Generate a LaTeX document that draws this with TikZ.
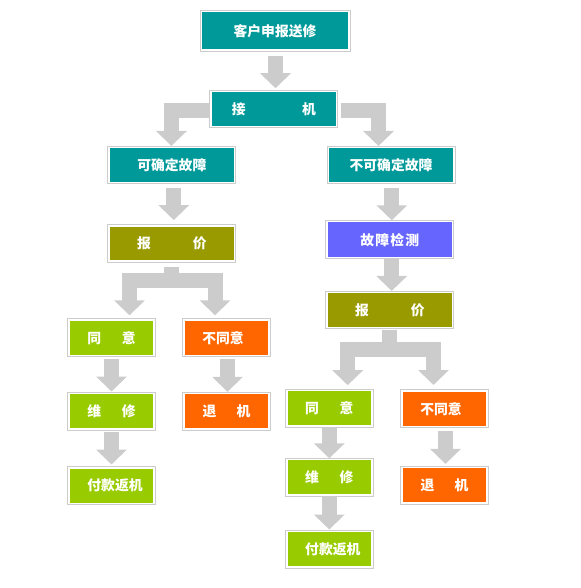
\documentclass[tikz,border=0pt]{standalone}
\usepackage{fontspec}
\newfontfamily\cjk{Noto Sans CJK SC}
\usetikzlibrary{arrows.meta,calc}
\definecolor{teal}{HTML}{009999}
\definecolor{olive}{HTML}{999900}
\definecolor{lgreen}{HTML}{99CC00}
\definecolor{orng}{HTML}{FF6600}
\definecolor{blu}{HTML}{6666FF}
\definecolor{frame}{HTML}{CCCCCC}
\definecolor{agray}{HTML}{CCCCCC}
\tikzset{
  box/.style={rectangle, inner sep=0pt, fill=#1, draw=white, line width=1.5pt,
    text=white, font=\cjk\bfseries\fontsize{13.8}{15}\selectfont,
    preaction={draw=frame, line width=3.5pt}},
  wide/.style={minimum width=125.5pt, minimum height=35pt},
  small/.style={minimum width=85pt, minimum height=35.5pt},
  blk/.style={draw=agray, line width=15pt, line join=miter,
    -{Triangle[width=30pt,length=15pt]}},
}
\begin{document}
\begin{tikzpicture}[x=1pt,y=-1pt]
\useasboundingbox (0,0) rectangle (580,588);
% nodes
\node[box=teal, minimum width=147.5pt, minimum height=38.5pt] (top) at (275,31) {客户申报送修};
\node[box=teal, wide] (jj) at (273.8,109.2) {接\hspace{56.4pt}机};
\node[box=teal, wide] (ke) at (171.8,165.2) {可确定故障};
\node[box=teal, wide] (bk) at (391,165.2) {不可确定故障};
\node[box=olive, wide] (bjL) at (171.8,243.3) {报\hspace{42pt}价};
\node[box=blu, wide, minimum height=36pt] (jc) at (389.8,239.7) {故\hspace{1.2pt}障\hspace{1.2pt}检\hspace{1.2pt}测};
\node[box=olive, wide] (bjR) at (389.8,310.2) {报\hspace{42pt}价};
% left lower
\node[box=lgreen, small] (tyL) at (111.5,337.8) {同\hspace{20.8pt}意};
\node[box=orng, small] (btyL) at (226.5,337.8) {\hspace{-7pt}不同意};
\node[box=lgreen, small] (wxL) at (111.5,411) {维\hspace{20.8pt}修};
\node[box=orng, small] (tjL) at (226.5,411.3) {退\hspace{20.4pt}机};
\node[box=lgreen, small] (fkL) at (111.5,485.7) {\hspace{7pt}付款返机};
% right lower
\node[box=lgreen, small] (tyR) at (329.3,408) {同\hspace{20.8pt}意};
\node[box=orng, small] (btyR) at (444.5,408.8) {\hspace{-7pt}不同意};
\node[box=lgreen, small] (wxR) at (329.3,477) {维\hspace{20.8pt}修};
\node[box=orng, small] (tjR) at (444.5,485) {退\hspace{20.4pt}机};
\node[box=lgreen, small] (fkR) at (329.3,549) {\hspace{7pt}付款返机};
% straight arrows
\draw[blk, shorten <=4.7pt, shorten >=2.7pt] ([xshift=0.5pt]top.south) -- ([xshift=0.5pt]top.south |- jj.north);
\draw[blk, shorten <=4.7pt, shorten >=5pt] ([xshift=2pt]ke.south) -- ([xshift=2pt]ke.south |- bjL.north);
\draw[blk, shorten <=4.7pt, shorten >=0.7pt] ([xshift=0.8pt]bk.south) -- ([xshift=0.8pt]bk.south |- jc.north);
\draw[blk, shorten <=0.7pt, shorten >=1pt] ([xshift=1.9pt]jc.south) -- ([xshift=1.9pt]jc.south |- bjR.north);
\draw[blk, shorten <=2.7pt, shorten >=1pt] (tyL.south) -- (wxL.north);
\draw[blk, shorten <=2.2pt, shorten >=2.7pt] (wxL.south) -- (fkL.north);
\draw[blk, shorten <=2.7pt, shorten >=1pt] ([xshift=1pt]btyL.south) -- ([xshift=1pt]tjL.north);
\draw[blk, shorten <=0.6pt, shorten >=0.2pt] (tyR.south) -- (wxR.north);
\draw[blk, shorten <=0.6pt, shorten >=1pt] (wxR.south) -- (fkR.north);
\draw[blk, shorten <=3.4pt, shorten >=2.6pt] ([xshift=1pt]btyR.south) -- ([xshift=1pt]tjR.north);
% bent arrows from jieji
\draw[blk, shorten <=1.3pt, shorten >=1pt] ([yshift=-1.5pt]jj.west) -| ([xshift=-0.4pt]ke.north);
\draw[blk, shorten <=3.7pt, shorten >=1pt] ([yshift=-1.5pt]jj.east) -| ([xshift=-12.5pt]bk.north);
% branches from baojia
\draw[blk, shorten <=5pt, shorten >=4pt] (bjL.south) -- ++(0,18.5) -| ([xshift=18pt]tyL.north);
\draw[blk, shorten <=5pt, shorten >=4pt] (bjL.south) -- ++(0,18.5) -| ([xshift=-11.5pt]btyL.north);
\draw[blk, shorten <=1.4pt, shorten >=4.3pt] (bjR.south) -- ++(0,20.7) -| ([xshift=18.4pt]tyR.north);
\draw[blk, shorten <=1.4pt, shorten >=5.3pt] (bjR.south) -- ++(0,20.7) -| ([xshift=-11pt]btyR.north);
\end{tikzpicture}
\end{document}
